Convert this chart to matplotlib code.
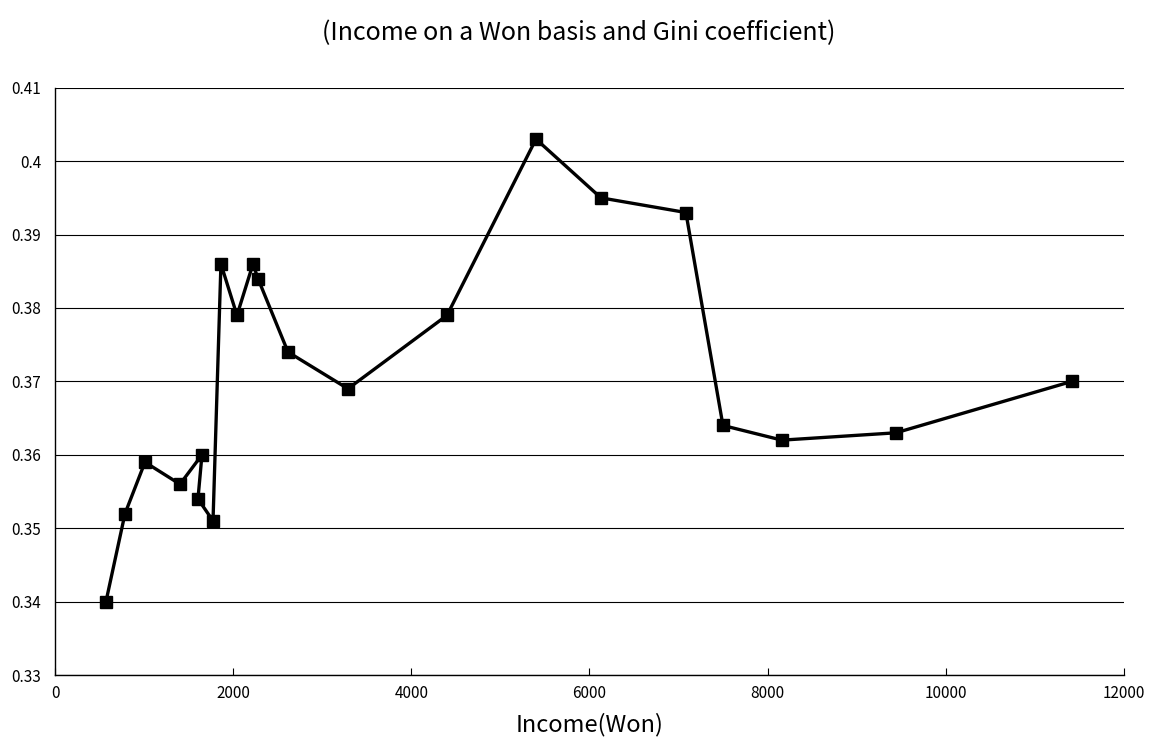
import numpy as np
import matplotlib.pyplot as plt

plt.rcParams["font.family"] = ["Noto Sans CJK JP", "DejaVu Sans"]

# Income (Won) and Gini coefficient, in series order
income_won = [572, 786, 1010, 1403, 1650, 1605, 1774, 1863, 2043, 2223, 2279,
              2616, 3289, 4401, 5400, 6129, 7083, 7499, 8161, 9441, 11417]
gini = [0.340, 0.352, 0.359, 0.356, 0.360, 0.354, 0.351, 0.386, 0.379, 0.386,
        0.384, 0.374, 0.369, 0.379, 0.403, 0.395, 0.393, 0.364, 0.362, 0.363,
        0.370]

x_ticks = [0, 2000, 4000, 6000, 8000, 10000, 12000]
y_ticks = [0.33, 0.34, 0.35, 0.36, 0.37, 0.38, 0.39, 0.40, 0.41]
y_labels = ["0.33", "0.34", "0.35", "0.36", "0.37", "0.38", "0.39", "0.4", "0.41"]

fig = plt.figure(figsize=(11.58, 7.56), dpi=100)
ax = fig.add_axes([0.0475, 0.107, 0.923, 0.777])

ax.plot(income_won, gini, color="black", linewidth=2.4,
        marker="s", markersize=9, markerfacecolor="black", markeredgecolor="black")

ax.set_xlim(0, 12000)
ax.set_ylim(0.33, 0.41)
ax.set_xticks(x_ticks)
ax.set_xticklabels([str(t) for t in x_ticks], fontsize=11)
ax.set_yticks(y_ticks)
ax.set_yticklabels(y_labels, fontsize=11)

ax.yaxis.grid(True, color="black", linewidth=0.8)
ax.set_axisbelow(True)
ax.spines["top"].set_visible(False)
ax.spines["right"].set_visible(False)
ax.spines["left"].set_linewidth(1.0)
ax.spines["bottom"].set_linewidth(1.0)
ax.tick_params(axis="x", direction="in", length=5, pad=7)
ax.tick_params(axis="y", length=0, pad=10)

ax.set_xlabel("Income(Won)", fontsize=17, labelpad=8)
fig.suptitle("(Income on a Won basis and Gini coefficient)", fontsize=18, y=0.974)

fig.savefig("out.png", dpi=100)
